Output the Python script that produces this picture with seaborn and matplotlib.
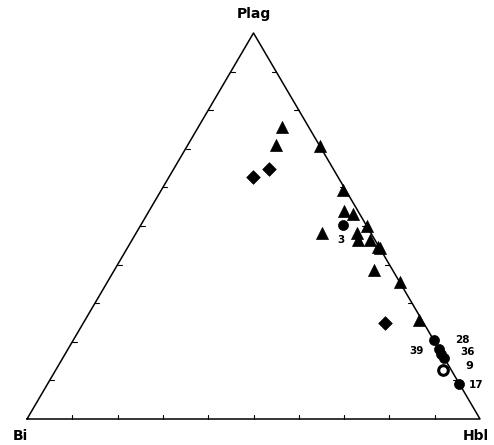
import numpy as np
import pandas as pd
import seaborn as sns
import matplotlib
matplotlib.use("Agg")
import matplotlib.pyplot as plt

# modal composition as fractions (Plag, Hbl, Bi)
tri_plag = [0.756, 0.710, 0.708, 0.593, 0.540, 0.530, 0.500, 0.483, 0.483, 0.464,
            0.464, 0.446, 0.442, 0.386, 0.355, 0.256]
tri_hbl = [0.185, 0.194, 0.292, 0.400, 0.430, 0.454, 0.500, 0.409, 0.487, 0.498,
           0.525, 0.552, 0.558, 0.573, 0.645, 0.737]
dia_plag = [0.626, 0.648, 0.248]
dia_hbl = [0.185, 0.211, 0.666]
cir_plag = [0.503, 0.205, 0.181, 0.168, 0.157, 0.091]
cir_hbl = [0.446, 0.795, 0.818, 0.831, 0.843, 0.909]
open_plag = [0.127]
open_hbl = [0.854]

df = pd.DataFrame({
    "plag": tri_plag + dia_plag + cir_plag,
    "hbl": tri_hbl + dia_hbl + cir_hbl,
    "type": ["tri"] * len(tri_plag) + ["dia"] * len(dia_plag) + ["cir"] * len(cir_plag),
})
df["x"] = df.hbl + df.plag / 2
df["y"] = df.plag

sns.set_style("white")
plt.rcParams["font.family"] = ["DejaVu Sans"]
plt.rcParams["text.color"] = "black"

fig = plt.figure(figsize=(4.94, 4.45), dpi=100)
ax = fig.add_axes([0, 0, 1, 1])
ax.set_xlim(-27 / 453, (494 - 27) / 453)
ax.set_ylim(-26 / 386, 419 / 386)
ax.axis("off")

# frame
ax.plot([0, 1, 0.5, 0], [0, 0, 1, 0], color="black", lw=1.1)

# small ticks every 10 %
tl = 0.01
for f in np.arange(0.1, 1.0, 0.1):
    ax.plot([f, f], [0, tl], color="black", lw=0.8)  # base
    ax.plot([f / 2, f / 2 + tl], [f, f], color="black", lw=0.8)  # left edge
    ax.plot([1 - f / 2, 1 - f / 2 - tl], [f, f], color="black", lw=0.8)  # right edge

sizes = {"tri": 75, "dia": 48, "cir": 52}
markers = {"tri": "^", "dia": "D", "cir": "o"}
for t in ["tri", "dia", "cir"]:
    sub = df[df.type == t]
    sns.scatterplot(data=sub, x="x", y="y", marker=markers[t], s=sizes[t],
                    color="black", edgecolor="black", linewidth=0.5, ax=ax, zorder=3)

ox = [h + p / 2 for h, p in zip(open_hbl, open_plag)]
ax.scatter(ox, open_plag, s=48, facecolor="white", edgecolor="black", linewidth=2.2, zorder=3)

# sample numbers
lab_pos = {"3": (341, 240), "28": (462, 340), "39": (416, 351), "36": (468, 352),
           "9": (469, 366), "17": (476, 385)}
for lab, (px, py) in lab_pos.items():
    ax.text((px - 27) / 453, (419 - py) / 386, lab, fontsize=8 if lab == "9" else 7.5,
            fontweight="bold", ha="center", va="center", color="black")

ax.text(0.5, (419 - 14) / 386, "Plag", fontsize=10, fontweight="bold", ha="center", va="center")
ax.text((20 - 27) / 453, (419 - 436) / 386, "Bi", fontsize=10, fontweight="bold", ha="center", va="center")
ax.text((476 - 27) / 453, (419 - 436) / 386, "Hbl", fontsize=10, fontweight="bold", ha="center", va="center")

fig.savefig("out.png", dpi=100, facecolor="white")
